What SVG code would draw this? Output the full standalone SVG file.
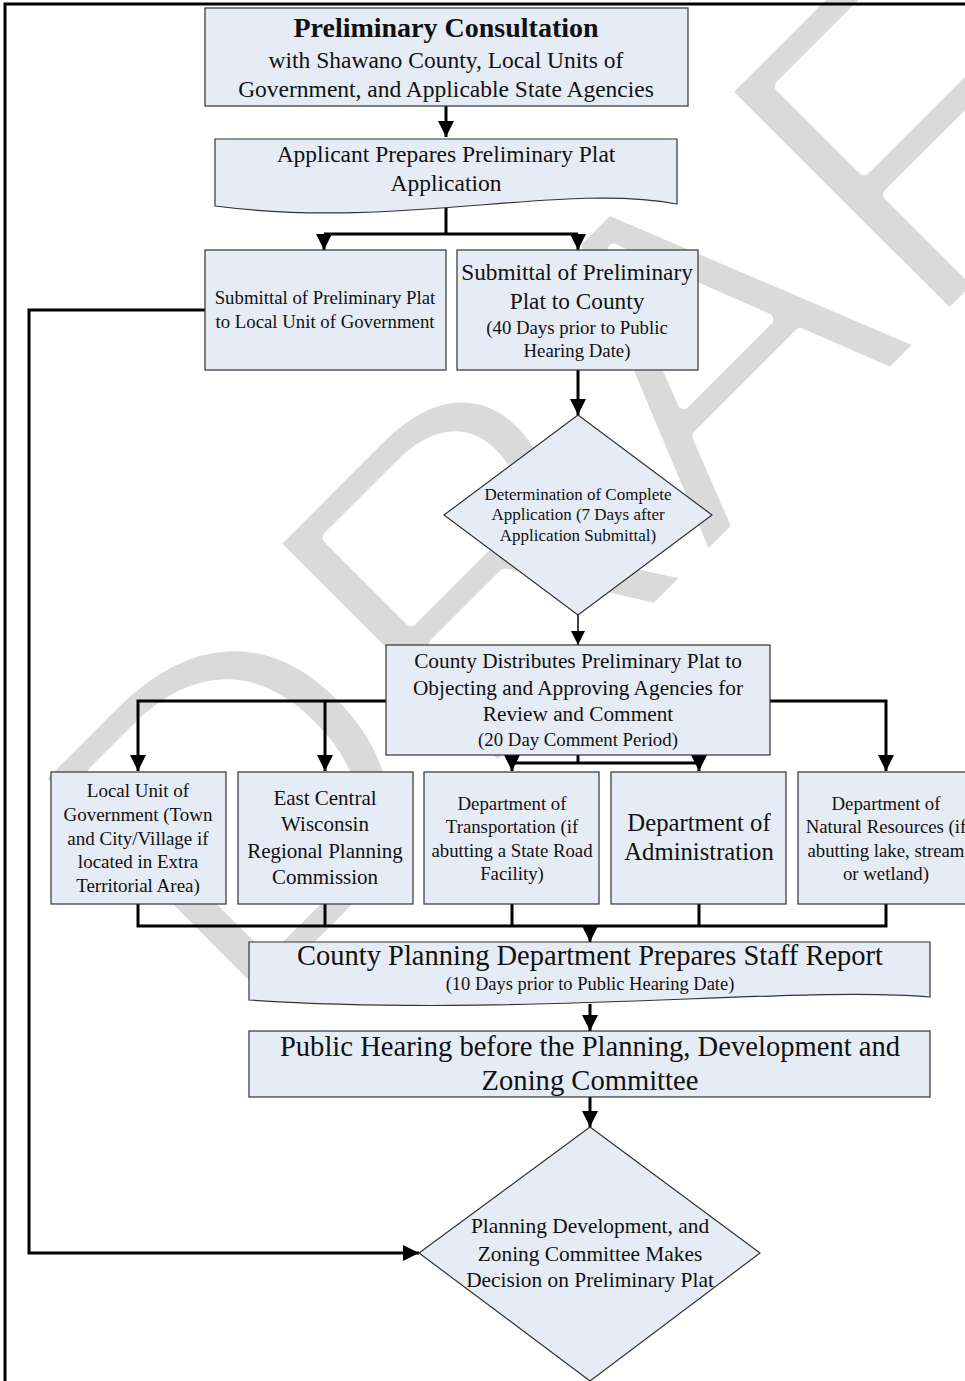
<svg xmlns="http://www.w3.org/2000/svg" width="965" height="1381" viewBox="0 0 965 1381">
<defs>
<style>
.box{fill:#e6ecf6;stroke:#333;stroke-width:1.2}
.t{font-family:"Liberation Serif","Times New Roman",serif;fill:#111;text-anchor:middle}
.c{fill:none;stroke:#000;stroke-width:3}
.ct{fill:none;stroke:#000;stroke-width:1.5}
.wm{font-family:"Liberation Sans",Arial,sans-serif;fill:#dadada;stroke:#fff;stroke-width:12;stroke-linejoin:round}
</style>
<marker id="ah" markerUnits="userSpaceOnUse" markerWidth="18" markerHeight="18" viewBox="0 0 18 18" refX="16" refY="9" orient="auto">
<path d="M0,1 L16,9 L0,17 Z" fill="#000"/>
</marker>
<marker id="ahs" markerUnits="userSpaceOnUse" markerWidth="16" markerHeight="16" viewBox="0 0 16 16" refX="14" refY="8" orient="auto">
<path d="M0,1 L14,8 L0,15 Z" fill="#000"/>
</marker>
</defs>
<rect width="965" height="1381" fill="#fff"/>
<g id="watermark">
<text class="wm" x="0" y="0" font-size="460" transform="translate(236,1029) rotate(-45)">DRAFT</text>
</g>
<g id="page-border">
<path d="M5,1381 V4 H965" fill="none" stroke="#000" stroke-width="3"/>
</g>
<g id="connectors">
<path class="c" d="M446,106 V137" marker-end="url(#ah)"/>
<path class="c" d="M446,207 V234"/>
<path class="c" d="M324,234 H578"/>
<path class="c" d="M324,234 V250" marker-end="url(#ah)"/>
<path class="c" d="M578,234 V250" marker-end="url(#ah)"/>
<path class="c" d="M205,310 H29 V1253 H419" marker-end="url(#ah)"/>
<path class="c" d="M578,370 V415" marker-end="url(#ah)"/>
<path class="ct" d="M578,615 V645" marker-end="url(#ahs)"/>
<path class="c" d="M386,701 H138 V771" marker-end="url(#ah)"/>
<path class="c" d="M325,701 V771" marker-end="url(#ah)"/>
<path class="c" d="M770,701 H886 V771" marker-end="url(#ah)"/>
<path class="c" d="M578,755 V763"/>
<path class="c" d="M512,763 H699"/>
<path class="c" d="M512,763 V771" marker-end="url(#ah)"/>
<path class="c" d="M699,763 V771" marker-end="url(#ah)"/>
<path class="c" d="M138,904 V926 H886 V904"/>
<path class="c" d="M325,904 V926"/>
<path class="c" d="M512,904 V926"/>
<path class="c" d="M699,904 V926"/>
<path class="c" d="M590,926 V942" marker-end="url(#ah)"/>
<path class="c" d="M590,1004 V1031" marker-end="url(#ah)"/>
<path class="c" d="M590,1097 V1127" marker-end="url(#ah)"/>
</g>
<g id="n-consultation">
<rect class="box" x="205" y="8" width="483" height="98"/>
<text class="t" x="446" y="37" font-size="28" font-weight="bold">Preliminary Consultation</text>
<text class="t" x="446" y="68" font-size="23.5">with Shawano County, Local Units of</text>
<text class="t" x="446" y="97" font-size="23.5">Government, and Applicable State Agencies</text>
</g>
<g id="n-applicant">
<path class="box" d="M215,139 H677 V204 C560,182 400,230 215,206 Z"/>
<text class="t" x="446" y="162" font-size="23.5">Applicant Prepares Preliminary Plat</text>
<text class="t" x="446" y="191" font-size="23.5">Application</text>
</g>
<g id="n-submit-local">
<rect class="box" x="205" y="250" width="241" height="120"/>
<text class="t" x="325" y="304" font-size="18.8">Submittal of Preliminary Plat</text>
<text class="t" x="325" y="328" font-size="18.8">to Local Unit of Government</text>
</g>
<g id="n-submit-county">
<rect class="box" x="457" y="250" width="241" height="120"/>
<text class="t" x="577" y="280" font-size="23.3">Submittal of Preliminary</text>
<text class="t" x="577" y="309" font-size="23.3">Plat to County</text>
<text class="t" x="577" y="334" font-size="18.8">(40 Days prior to Public</text>
<text class="t" x="577" y="357" font-size="18.8">Hearing Date)</text>
</g>
<g id="n-determination">
<path class="box" d="M578,415 L712,515 L578,615 L444,515 Z"/>
<text class="t" x="578" y="500" font-size="17">Determination of Complete</text>
<text class="t" x="578" y="520" font-size="17">Application (7 Days after</text>
<text class="t" x="578" y="541" font-size="17">Application Submittal)</text>
</g>
<g id="n-distribute">
<rect class="box" x="386" y="645" width="384" height="110"/>
<text class="t" x="578" y="668" font-size="21.3">County Distributes Preliminary Plat to</text>
<text class="t" x="578" y="695" font-size="21.3">Objecting and Approving Agencies for</text>
<text class="t" x="578" y="721" font-size="21.3">Review and Comment</text>
<text class="t" x="578" y="746" font-size="18.8">(20 Day Comment Period)</text>
</g>
<g id="n-local-unit">
<rect class="box" x="51" y="772" width="175" height="132"/>
<text class="t" x="138" y="797" font-size="19">Local Unit of</text>
<text class="t" x="138" y="821" font-size="19">Government (Town</text>
<text class="t" x="138" y="845" font-size="19">and City/Village if</text>
<text class="t" x="138" y="868" font-size="19">located in Extra</text>
<text class="t" x="138" y="892" font-size="19">Territorial Area)</text>
</g>
<g id="n-ecwrpc">
<rect class="box" x="238" y="772" width="175" height="132"/>
<text class="t" x="325" y="805" font-size="21">East Central</text>
<text class="t" x="325" y="831" font-size="21">Wisconsin</text>
<text class="t" x="325" y="858" font-size="21">Regional Planning</text>
<text class="t" x="325" y="884" font-size="21">Commission</text>
</g>
<g id="n-dot">
<rect class="box" x="424" y="772" width="175" height="132"/>
<text class="t" x="512" y="810" font-size="18.8">Department of</text>
<text class="t" x="512" y="833" font-size="18.8">Transportation (if</text>
<text class="t" x="512" y="857" font-size="18.8">abutting a State Road</text>
<text class="t" x="512" y="880" font-size="18.8">Facility)</text>
</g>
<g id="n-doa">
<rect class="box" x="611" y="772" width="175" height="132"/>
<text class="t" x="699" y="831" font-size="24.7">Department of</text>
<text class="t" x="699" y="860" font-size="24.7">Administration</text>
</g>
<g id="n-dnr">
<rect class="box" x="798" y="772" width="175" height="132"/>
<text class="t" x="886" y="810" font-size="18.8">Department of</text>
<text class="t" x="886" y="833" font-size="18.8">Natural Resources (if</text>
<text class="t" x="886" y="857" font-size="18.8">abutting lake, stream</text>
<text class="t" x="886" y="880" font-size="18.8">or wetland)</text>
</g>
<g id="n-staff-report">
<path class="box" d="M249,942 H930 V997 C800,985 520,1018 249,1000 Z"/>
<text class="t" x="590" y="965" font-size="28.5">County Planning Department Prepares Staff Report</text>
<text class="t" x="590" y="990" font-size="18.5">(10 Days prior to Public Hearing Date)</text>
</g>
<g id="n-public-hearing">
<rect class="box" x="249" y="1031" width="681" height="66"/>
<text class="t" x="590" y="1056" font-size="28.6">Public Hearing before the Planning, Development and</text>
<text class="t" x="590" y="1090" font-size="28.6">Zoning Committee</text>
</g>
<g id="n-decision">
<path class="box" d="M590,1127 L760,1253 L590,1381 L419,1253 Z"/>
<text class="t" x="590" y="1233" font-size="21.4">Planning Development, and</text>
<text class="t" x="590" y="1261" font-size="21.4">Zoning Committee Makes</text>
<text class="t" x="590" y="1287" font-size="21.4">Decision on Preliminary Plat</text>
</g>
</svg>
